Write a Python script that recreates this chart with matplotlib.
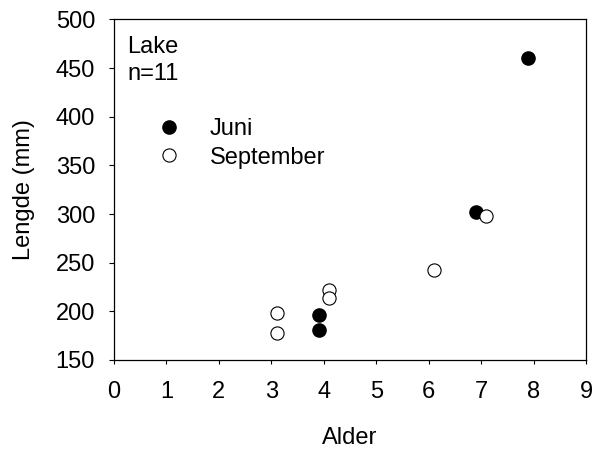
import matplotlib
matplotlib.use("Agg")
import matplotlib.pyplot as plt

plt.rcParams['font.family'] = ['Liberation Sans', 'DejaVu Sans']

juni_x = [7.9, 6.9, 3.9, 3.9]
juni_y = [460, 302, 196, 181]
sep_x = [7.1, 6.1, 4.1, 4.1, 3.1, 3.1]
sep_y = [298, 243, 222, 214, 198, 178]

FS = 17

fig = plt.figure(figsize=(5.95, 4.5), dpi=100)
ax = fig.add_axes([0.1916, 0.2, 0.7934, 0.7567])

ax.plot(juni_x, juni_y, 'o', ms=9.5, mfc='black', mec='black', mew=1, ls='none', label='Juni')
ax.plot(sep_x, sep_y, 'o', ms=9.5, mfc='white', mec='black', mew=0.8, ls='none', label='September')

ax.set_xlim(0, 9)
ax.set_ylim(150, 500)
ax.set_xticks(range(0, 10))
ax.set_yticks(range(150, 501, 50))
ax.tick_params(axis='y', direction='out', length=3.6, width=0.8, labelsize=FS, pad=10)
ax.tick_params(axis='x', direction='out', length=3.0, width=0.8, labelsize=FS, pad=12)
for s in ax.spines.values():
    s.set_linewidth(0.9)

ax.set_xlabel('Alder', fontsize=FS)
ax.xaxis.set_label_coords(0.5, -0.196)
ax.set_ylabel('Lengde (mm)', fontsize=FS)
ax.yaxis.set_label_coords(-0.168, 0.5)

ax.text(0.0275, 0.9016, 'Lake', transform=ax.transAxes, fontsize=FS, va='baseline', ha='left')
ax.text(0.0275, 0.8223, 'n=11', transform=ax.transAxes, fontsize=FS, va='baseline', ha='left')

leg = ax.legend(loc='upper left', bbox_to_anchor=(0.0956, 0.711), frameon=False, fontsize=FS,
                handletextpad=1.35, labelspacing=0.285, borderaxespad=0, borderpad=0, handlelength=0.8)

fig.savefig('out.png', dpi=100)
